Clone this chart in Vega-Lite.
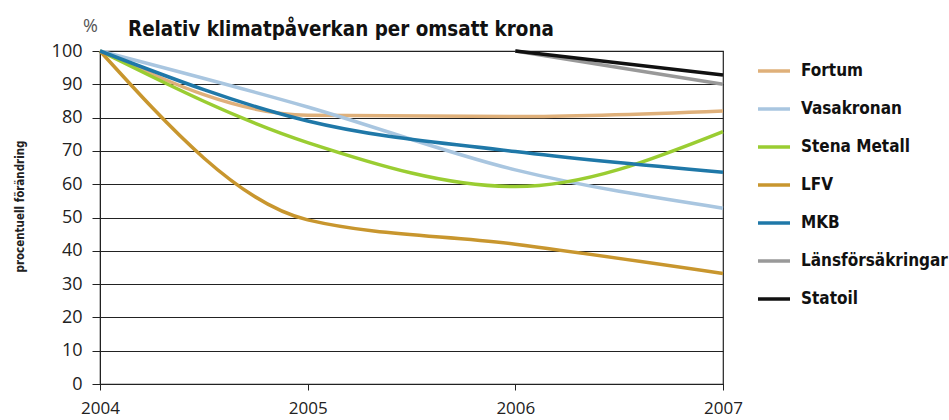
{
  "$schema": "https://vega.github.io/schema/vega-lite/v6.json",
  "autosize": "none",
  "width": 623,
  "height": 333,
  "padding": {"left": 100, "top": 51, "right": 226, "bottom": 36},
  "background": "white",
  "title": {
    "text": "Relativ klimatpåverkan per omsatt krona",
    "anchor": "start",
    "frame": "group",
    "dx": 28,
    "dy": 25,
    "offset": -14,
    "baseline": "alphabetic",
    "font": "DejaVu Sans Condensed",
    "fontWeight": "bold",
    "fontSize": 20.4,
    "color": "#111111"
  },
  "config": {
    "view": {"stroke": "#222222", "strokeWidth": 1.2},
    "font": "Open Sans"
  },
  "data": {
    "values": [
      {"company": "Fortum", "year": 2004, "value": 100},
      {"company": "Fortum", "year": 2005, "value": 80.7},
      {"company": "Fortum", "year": 2006, "value": 80.3},
      {"company": "Fortum", "year": 2007, "value": 82},
      {"company": "Vasakronan", "year": 2004, "value": 100},
      {"company": "Vasakronan", "year": 2005, "value": 83.2},
      {"company": "Vasakronan", "year": 2006, "value": 64.3},
      {"company": "Vasakronan", "year": 2007, "value": 52.8},
      {"company": "Stena Metall", "year": 2004, "value": 100},
      {"company": "Stena Metall", "year": 2005, "value": 72.5},
      {"company": "Stena Metall", "year": 2006, "value": 59.3},
      {"company": "Stena Metall", "year": 2007, "value": 75.8},
      {"company": "LFV", "year": 2004, "value": 100},
      {"company": "LFV", "year": 2005, "value": 49.3},
      {"company": "LFV", "year": 2006, "value": 42},
      {"company": "LFV", "year": 2007, "value": 33.2},
      {"company": "MKB", "year": 2004, "value": 100},
      {"company": "MKB", "year": 2005, "value": 79},
      {"company": "MKB", "year": 2006, "value": 69.8},
      {"company": "MKB", "year": 2007, "value": 63.6},
      {"company": "Länsförsäkringar", "year": 2006, "value": 100},
      {"company": "Länsförsäkringar", "year": 2007, "value": 90},
      {"company": "Statoil", "year": 2006, "value": 100},
      {"company": "Statoil", "year": 2007, "value": 92.8}
    ]
  },
  "mark": {"type": "line", "interpolate": "monotone", "strokeWidth": 3.5, "strokeCap": "butt"},
  "encoding": {
    "x": {
      "field": "year",
      "type": "quantitative",
      "scale": {"domain": [2004, 2007], "nice": false, "zero": false},
      "axis": {
        "values": [2004, 2005, 2006, 2007],
        "format": "d",
        "grid": false,
        "domainColor": "#222222",
        "tickColor": "#222222",
        "tickSize": 6,
        "labelPadding": 10,
        "labelFontSize": 17,
        "labelColor": "#222222",
        "labelFont": "Open Sans",
        "labelFlush": false,
        "title": "%",
        "titleFont": "Open Sans",
        "titleFontWeight": "normal",
        "titleFontSize": 18,
        "titleColor": "#555555",
        "titleX": -10,
        "titleY": -353,
        "titleAlign": "center",
        "titleBaseline": "alphabetic",
        "titleAngle": 0
      }
    },
    "y": {
      "field": "value",
      "type": "quantitative",
      "scale": {"domain": [0, 100], "nice": false},
      "axis": {
        "values": [0, 10, 20, 30, 40, 50, 60, 70, 80, 90, 100],
        "grid": true,
        "gridColor": "#222222",
        "gridWidth": 1.2,
        "gridOpacity": 1,
        "domainColor": "#222222",
        "tickColor": "#222222",
        "tickSize": 8,
        "labelPadding": 10,
        "labelFontSize": 18,
        "labelColor": "#222222",
        "labelFont": "Open Sans",
        "title": "procentuell förändring",
        "titleFont": "DejaVu Sans Condensed",
        "titleFontWeight": "bold",
        "titleFontSize": 11.5,
        "titleColor": "#222222",
        "titlePadding": 26,
        "titleY": 155
      }
    },
    "color": {
      "field": "company",
      "type": "nominal",
      "sort": ["Fortum", "Vasakronan", "Stena Metall", "LFV", "MKB", "Länsförsäkringar", "Statoil"],
      "scale": {
        "domain": ["Fortum", "Vasakronan", "Stena Metall", "LFV", "MKB", "Länsförsäkringar", "Statoil"],
        "range": ["#dfb07a", "#a9c6e0", "#9acd32", "#c8962e", "#1f78a8", "#999999", "#111111"]
      },
      "legend": {
        "title": null,
        "orient": "none",
        "legendX": 656,
        "legendY": 2,
        "symbolType": "stroke",
        "symbolSize": 1024,
        "symbolStrokeWidth": 3.5,
        "labelFont": "DejaVu Sans Condensed",
        "labelFontWeight": "bold",
        "labelFontSize": 17,
        "labelColor": "#111111",
        "labelOffset": 9,
        "rowPadding": 12,
        "padding": 0,
        "labelLimit": 300
      }
    }
  }
}
